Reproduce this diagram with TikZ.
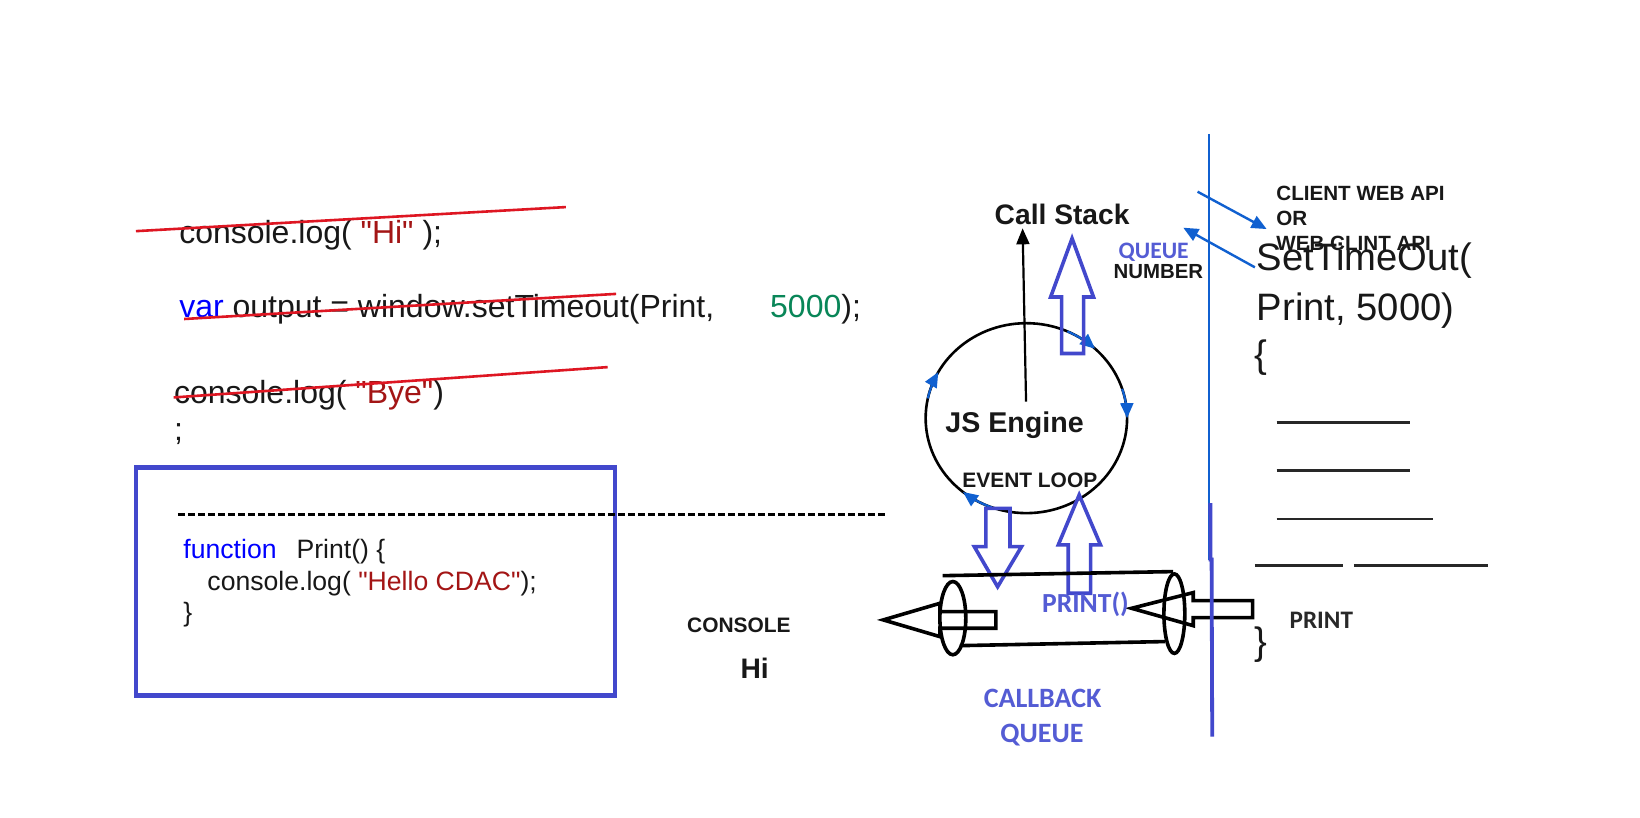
\documentclass[tikz,border=0pt]{standalone}
\usepackage{fontspec}
\setmainfont{Liberation Sans}[Ligatures=TeXOff]
\newfontfamily\carfont{Carlito}
\usetikzlibrary{arrows.meta}
\definecolor{strikered}{RGB}{222,22,34}
\definecolor{strc}{RGB}{163,21,21}
\definecolor{kwc}{RGB}{0,0,255}
\definecolor{numc}{RGB}{9,134,88}
\definecolor{boxblue}{RGB}{66,72,204}
\definecolor{lblue}{RGB}{84,92,212}
\definecolor{arrblue}{RGB}{16,96,208}
\definecolor{ink}{RGB}{24,24,24}
\definecolor{greyink}{RGB}{40,40,40}
\newcommand\codeA{\fontsize{16}{19}\selectfont}
\newcommand\codeB{\fontsize{13.3}{16}\selectfont}
\newcommand\bigcode{\fontsize{19.1}{23}\selectfont}
\begin{document}
\begin{tikzpicture}[x=0.523pt,y=-0.523pt,
  txt/.style={inner sep=0pt, anchor=base west, text=ink},
  ctr/.style={inner sep=0pt, anchor=base, text=ink},
  strikeline/.style={draw=strikered, line width=1.3pt},
  hollow/.style={draw=boxblue, line width=1.8pt, line join=miter},
  blk/.style={draw=black, line width=1.8pt, line join=miter},
  loopar/.style={draw=arrblue, line width=1.1pt, -{Triangle[length=7.5pt,width=6.5pt]}},
  thinar/.style={draw=arrblue, line width=1.2pt, -{Triangle[length=7.5pt,width=6.5pt]}},
  blank/.style={draw=greyink, line width=1.3pt},
  lbl/.style={inner sep=0pt, anchor=base, text=lblue, font=\carfont\bfseries\fontsize{14}{16}\selectfont}
]
\useasboundingbox (0,0) rectangle (1568,782);
\fill[white] (0,0) rectangle (1568,782);

% ---- code lines
\node[txt, font=\codeA] (l1) at (171,232.7) {console.log( \textcolor{strc}{"Hi"} );};
\node[txt, font=\codeA] (l2) at (171,304) {\textcolor{kwc}{var} output = window.setTimeout(Print,};
\node[txt, font=\codeA] (l2b) at (736,304) {\textcolor{numc}{5000});};
\node[txt, font=\codeA] (l3) at (166,386) {console.log( \textcolor{strc}{"Bye"})};
\node[txt, font=\codeA] (l3b) at (166,421) {;};
\draw[strikeline] (130,221) -- (541,198);
\draw[strikeline] (176,305) -- (589,281);
\draw[strikeline] (166,380) -- (581,351);

% ---- function box
\draw[boxblue, line width=2.1pt] (130,447) rectangle (588,665);
\draw[black, line width=1.6pt, dash pattern=on 3.6pt off 1.4pt] (170,492) -- (847,492);
\node[txt, font=\codeB] (f1) at (175,534) {\textcolor{kwc}{function}\hspace{10pt}Print() \{};
\node[txt, font=\codeB] (f2) at (198,565) {console.log( \textcolor{strc}{"Hello CDAC"});};
\node[txt, font=\codeB] (f3) at (175,594) {\}};

% ---- console
\node[ctr, font=\bfseries\fontsize{10.46}{12}\selectfont] (console) at (706.5,605) {CONSOLE};
\node[ctr, font=\bfseries\fontsize{14.1}{17}\selectfont] (hi) at (721.5,648.7) {Hi};

% ---- JS engine / event loop
\coordinate (ec) at (981.3,399.8);
\draw[black, line width=1.3pt] (ec) ellipse [x radius=96.3, y radius=90.8];
\node[ctr, font=\bfseries\fontsize{14.3}{17}\selectfont] (js) at (970,413.8) {JS Engine};
\node[ctr, font=\bfseries\fontsize{10.46}{12}\selectfont] (ev) at (984.6,466) {EVENT LOOP};
\node[ctr, font=\bfseries\fontsize{14.1}{17}\selectfont] (cs) at (1015.5,214.2) {Call Stack};
\coordinate (jsTop) at (981,384);
\coordinate (csBot) at (977.7,218.3);
\draw[black, line width=1.1pt, -{Triangle[length=8pt,width=6.5pt]}] (jsTop) -- (csBot);

\draw[loopar] plot[domain=-66:-47, samples=12] ({981.3+96.3*cos(\x)},{399.8+90.8*sin(\x)});
\draw[loopar] plot[domain=-18:0, samples=12] ({981.3+96.3*cos(\x)},{399.8+90.8*sin(\x)});
\draw[loopar] plot[domain=192:209, samples=12] ({981.3+96.3*cos(\x)},{399.8+90.8*sin(\x)});
\draw[loopar] plot[domain=110:129, samples=12] ({981.3+96.3*cos(\x)},{399.8+90.8*sin(\x)});

% hollow arrow to call stack
\draw[hollow] (1015,338) -- (1015,284) -- (1004.5,284) -- (1025,228) -- (1045.5,284) -- (1036,284) -- (1036,338) -- cycle;
% hollow arrow down to queue
\draw[hollow] (942.6,486) -- (965.6,486) -- (965.6,522.6) -- (976.7,522.6) -- (953.8,561) -- (931.5,522.6) -- (942.6,522.6) -- cycle;
% hollow arrow up from queue
\draw[hollow] (1021.3,567.2) -- (1021.3,521) -- (1011.8,521) -- (1031.8,473.2) -- (1052.2,521) -- (1042.7,521) -- (1042.7,567.2) -- cycle;

% ---- callback queue cylinder
\draw[blk] (901.2,550.4) -- (1121.7,546.5);
\draw[blk] (917.8,617.3) -- (1113.8,613.4);
\draw[blk] (911,591) ellipse [x radius=12.4, y radius=35];
\draw[blk] (1122.8,586.7) ellipse [x radius=10, y radius=38];
\draw[blk] (952.2,584.8) -- (898.7,584.8) -- (898.7,576.8) -- (844.5,592.7) -- (898.7,608.7) -- (898.7,600.7) -- (952.2,600.7) -- cycle;
\draw[blk] (1197.6,574.3) -- (1140.8,574.3) -- (1140.8,566.6) -- (1081.9,581.6) -- (1140.8,598.2) -- (1140.8,590.5) -- (1197.6,590.5) -- cycle;
\node[lbl, font=\carfont\bfseries\fontsize{13.8}{16}\selectfont] (printq) at (1037.8,585.8) {PRINT()};
\node[lbl] (cb1) at (996.8,676) {CALLBACK};
\node[lbl] (cb2) at (996.2,710) {QUEUE};

% ---- divider
\draw[arrblue, line width=1.1pt] (1156.1,128) -- (1156.1,535);
\draw[boxblue, line width=1.9pt] (1157.2,481) -- (1157.4,535) -- (1158.4,535) -- (1159,704.3);

% ---- queue number & web api
\node[lbl, font=\carfont\bfseries\fontsize{11.8}{13}\selectfont] (qn1) at (1103,247) {QUEUE};
\node[ctr, font=\bfseries\fontsize{10.2}{12}\selectfont] (qn2) at (1107.5,266) {NUMBER};
\node[txt, font=\bfseries\fontsize{10.3}{12}\selectfont] (api1) at (1220,191.4) {CLIENT WEB API};
\node[txt, font=\bfseries\fontsize{10.3}{12}\selectfont] (api2) at (1220,215.9) {OR};
\node[txt, font=\bfseries\fontsize{10.3}{12}\selectfont] (api3) at (1220,239.2) {WEB CLINT API};
\coordinate (a1s) at (1145,183.3);
\coordinate (a1e) at (1211,219);
\coordinate (a2s) at (1199.8,255.6);
\coordinate (a2e) at (1131.3,217.7);
\draw[thinar] (a1s) -- (a1e);
\draw[thinar] (a2s) -- (a2e);

\node[txt, font=\bigcode] (st1) at (1201.4,258.5) {SetTimeOut(};
\node[txt, font=\bigcode] (st2) at (1201.4,306.3) {Print, 5000)};
\node[txt, font=\bigcode] (st3) at (1199,351) {\{};
\draw[blank] (1220.5,403.8) -- (1348,403.8);
\draw[blank] (1220.5,450) -- (1348,450);
\draw[blank] (1220.5,496.2) -- (1369.7,496.2);
\draw[blank] (1199.8,540.8) -- (1284.2,540.8);
\draw[blank] (1294.5,540.8) -- (1422.9,540.8);
\node[txt, text=greyink, font=\carfont\bfseries\fontsize{12.6}{15}\selectfont] (pr) at (1232.6,600.8) {PRINT};
\node[txt, font=\bigcode] (st4) at (1199,626) {\}};
\end{tikzpicture}
\end{document}
